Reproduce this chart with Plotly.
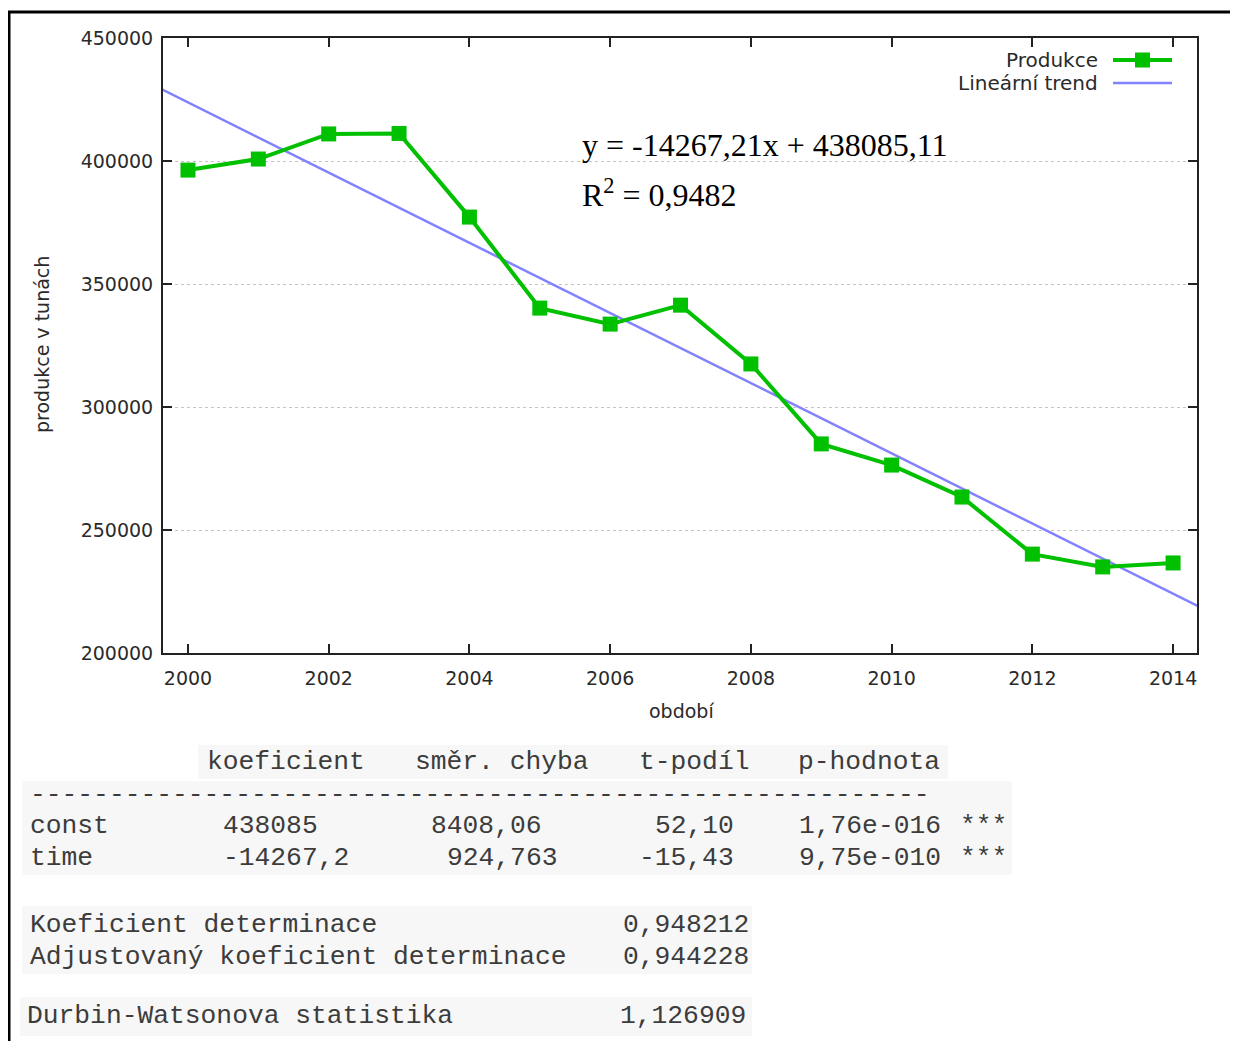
import plotly.graph_objects as go

# ---------------- data ----------------
years = [2000, 2001, 2002, 2003, 2004, 2005, 2006, 2007, 2008, 2009, 2010, 2011, 2012, 2013, 2014]
produkce = [396300, 400800, 411000, 411200, 377200, 340200, 333700, 341400, 317500,
            285000, 276400, 263400, 240200, 235000, 236600]
slope = -14267.21
intercept = 438085.11
y_ticks = [200000, 250000, 300000, 350000, 400000, 450000]
x_ticks = [2000, 2002, 2004, 2006, 2008, 2010, 2012, 2014]

table_header = ["koeficient", "směr. chyba", "t-podíl", "p-hodnota"]
table_rows = [
    ["const", "438085", "8408,06", "52,10", "1,76e-016", "***"],
    ["time", "-14267,2", "924,763", "-15,43", "9,75e-010", "***"],
]
stats_labels = ["Koeficient determinace", "Adjustovaný koeficient determinace", "Durbin-Watsonova statistika"]
stats_values = ["0,948212", "0,944228", "1,126909"]

# ---------------- geometry (page has an 8px body margin) ----------------
OFF = 8
W, H = 1238 - OFF, 1041 - OFF
L, R, T, B = 163 - OFF, 1197 - OFF, 38 - OFF, 653 - OFF


def px(x):
    return (x - OFF - L) / (R - L)


def py(y):
    return (B - (y - OFF)) / (B - T)


GREEN = "rgb(0,192,0)"
BLUE = "rgb(130,130,255)"
TXT = "#2a2a2a"
SANS = "DejaVu Sans"
MONO = "Liberation Mono"

trend_x = [years[0] - 1, years[-1] + 1]
trend_y = [intercept + slope * (x - years[0] + 1) for x in trend_x]

fig = go.Figure()
fig.add_trace(go.Scatter(x=trend_x, y=trend_y, mode="lines",
                         line=dict(color=BLUE, width=2.5), name="Lineární trend"))
fig.add_trace(go.Scatter(x=years, y=produkce, mode="lines+markers",
                         line=dict(color=GREEN, width=4),
                         marker=dict(symbol="square", size=15, color=GREEN),
                         name="Produkce"))

fig.update_layout(
    width=W, height=H,
    margin=dict(l=L, r=W - R, t=T, b=H - B, pad=0),
    paper_bgcolor="white", plot_bgcolor="white",
    showlegend=False,
    font=dict(family=SANS, size=19, color=TXT),
    xaxis=dict(range=[1999.645, 2014.34], tickvals=x_ticks, ticktext=[str(v) for v in x_ticks],
               ticks="inside", ticklen=9, tickwidth=1.5, tickcolor="#222",
               showline=True, linecolor="#222", linewidth=2, mirror="ticks",
               showgrid=False, zeroline=False, ticklabelstandoff=7,
               tickfont=dict(family=SANS, size=19, color=TXT)),
    yaxis=dict(range=[200000, 450000], tickvals=y_ticks, ticktext=[str(v) for v in y_ticks],
               ticks="inside", ticklen=9, tickwidth=1.5, tickcolor="#222",
               showline=True, linecolor="#222", linewidth=2, mirror="ticks",
               showgrid=True, gridcolor="#c4c4c4", griddash="dot", gridwidth=1,
               zeroline=False, ticklabelstandoff=4,
               tickfont=dict(family=SANS, size=19, color=TXT)),
)

ann = []
shapes = []


def text(x, y, s, font, xanchor="left", **kw):
    ann.append(dict(x=px(x), y=py(y), xref="paper", yref="paper", text=s, xanchor=xanchor,
                    yanchor="middle", showarrow=False, font=font, **kw))


# axis titles
text(681, 711, "období", dict(family=SANS, size=19, color=TXT), xanchor="center")
text(42, 345, "produkce v tunách", dict(family=SANS, size=19, color=TXT), xanchor="center", textangle=-90)

# legend (manual)
LF = dict(family=SANS, size=20, color=TXT)
text(1100, 60, "Produkce", LF, xanchor="right")
text(1100, 83, "Lineární trend", LF, xanchor="right")
shapes.append(dict(type="line", xref="paper", yref="paper", x0=px(1113), x1=px(1172),
                   y0=py(60), y1=py(60), line=dict(color=GREEN, width=4)))
shapes.append(dict(type="rect", xref="paper", yref="paper", x0=px(1135), x1=px(1150),
                   y0=py(52.5), y1=py(67.5), fillcolor=GREEN, line=dict(width=0)))
shapes.append(dict(type="line", xref="paper", yref="paper", x0=px(1113), x1=px(1172),
                   y0=py(83), y1=py(83), line=dict(color=BLUE, width=2.5)))

# equation
EF = dict(family="Liberation Serif", size=32, color="black")
text(580, 145, "y = -14267,21x + 438085,11", EF)
text(580, 193, "R<sup>2</sup> = 0,9482", EF)

# table background boxes (faint grey like the screenshot)
for (x0, x1, y0, y1) in [(198, 948, 745, 779), (22, 1012, 781, 875),
                         (22, 752, 906, 974), (20, 752, 997, 1036)]:
    shapes.append(dict(type="rect", xref="paper", yref="paper", x0=px(x0), x1=px(x1),
                       y0=py(y0), y1=py(y1), fillcolor="#f7f7f7", line=dict(width=0), layer="below"))

MF = dict(family=MONO, size=26.3, color="#3c3c3c")

hdr_x = [205, 413, 637, 796]
for x, s in zip(hdr_x, table_header):
    text(x, 762, s, MF)
text(28, 795, "-" * 57, MF)
row_x = [[28, 221, 429, 653, 797, 958], [28, 221, 445, 637, 797, 958]]
for ry, xs, row in zip([826, 858], row_x, table_rows):
    for x, s in zip(xs, row):
        text(x, ry, s, MF)
for ry, lx, vx, lab, val in zip([925, 957, 1016], [28, 28, 25], [621, 621, 618], stats_labels, stats_values):
    text(lx, ry, lab, MF)
    text(vx, ry, val, MF)

# outer frame lines
shapes.append(dict(type="line", xref="paper", yref="paper", x0=px(7), x1=px(1240),
                   y0=py(12), y1=py(12), line=dict(color="black", width=3)))
shapes.append(dict(type="line", xref="paper", yref="paper", x0=px(9), x1=px(9),
                   y0=py(11), y1=py(1045), line=dict(color="black", width=3)))

fig.update_layout(annotations=ann, shapes=shapes)
fig.write_html("out.html")
